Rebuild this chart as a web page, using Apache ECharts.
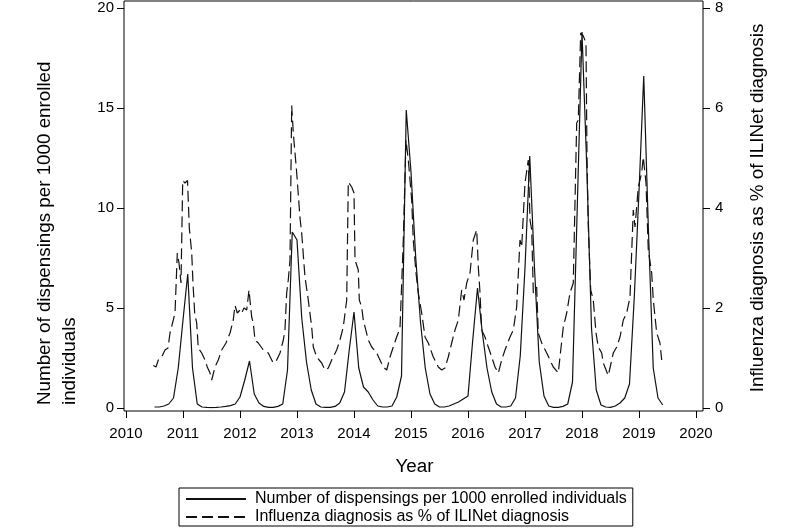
<!DOCTYPE html>
<html>
<head>
<meta charset="utf-8">
<script src="https://cdn.jsdelivr.net/npm/echarts@6/dist/echarts.min.js"></script>
<style>
  html, body { margin: 0; padding: 0; background: #fff; }
  #chart { width: 800px; height: 530px; }
</style>
</head>
<body>
<div id="chart"></div>
<script>
// year ticks on the x axis
const yearTicks = [2010, 2011, 2012, 2013, 2014, 2015, 2016, 2017, 2018, 2019, 2020]

// monthly dispensings per 1000 enrolled, Jul 2010 .. Jun 2019
const firstMonth = '2010-07'
const dispensings = [
  0.05, 0.05, 0.1, 0.2, 0.5, 2.0,
  4.4, 6.7, 2.0, 0.2, 0.05, 0.03, 0.02, 0.03, 0.05, 0.08, 0.12, 0.2,
  0.55, 1.4, 2.35, 0.7, 0.25, 0.08, 0.03, 0.03, 0.08, 0.2, 1.9, 8.8,
  8.4, 4.5, 2.3, 0.9, 0.2, 0.05, 0.03, 0.03, 0.08, 0.25, 0.8, 2.9,
  4.8, 2.0, 1.05, 0.8, 0.4, 0.1, 0.05, 0.05, 0.1, 0.55, 1.6, 14.9,
  11.8, 7.5, 4.3, 2.0, 0.7, 0.2, 0.05, 0.05, 0.1, 0.2, 0.3, 0.45,
  0.6, 3.4, 6.0, 3.8, 2.0, 0.8, 0.2, 0.05, 0.05, 0.1, 0.5, 2.6,
  7.0, 12.6, 7.0, 2.3, 0.6, 0.1, 0.03, 0.03, 0.08, 0.2, 1.3, 10.0,
  18.8, 12.1, 4.0, 0.9, 0.15, 0.05, 0.03, 0.1, 0.25, 0.5, 1.2, 5.5,
  10.8, 16.6, 8.8, 2.0, 0.5, 0.15
]

// influenza diagnosis as % of ILINet (decimal year, value)
const fluTime = [
  2010.479, 2010.526, 2010.567, 2010.626, 2010.684, 2010.737, 2010.772, 2010.830, 2010.860, 2010.900,
  2010.930, 2010.965, 2010.995, 2011.035, 2011.079, 2011.111, 2011.153, 2011.175, 2011.205, 2011.240,
  2011.268, 2011.328, 2011.386, 2011.426, 2011.474, 2011.503, 2011.561, 2011.619, 2011.679, 2011.754,
  2011.825, 2011.882, 2011.912, 2011.953, 2012.000, 2012.030, 2012.070, 2012.118, 2012.158, 2012.175,
  2012.205, 2012.233, 2012.263, 2012.321, 2012.409, 2012.496, 2012.556, 2012.584, 2012.644, 2012.702,
  2012.760, 2012.789, 2012.819, 2012.847, 2012.877, 2012.907, 2012.935, 2012.995, 2013.053, 2013.082,
  2013.140, 2013.198, 2013.258, 2013.286, 2013.346, 2013.433, 2013.491, 2013.549, 2013.609, 2013.696,
  2013.754, 2013.812, 2013.872, 2013.900, 2013.960, 2014.000, 2014.018, 2014.075, 2014.093, 2014.135,
  2014.163, 2014.251, 2014.311, 2014.398, 2014.456, 2014.514, 2014.574, 2014.632, 2014.689, 2014.749,
  2014.807, 2014.837, 2014.865, 2014.912, 2014.953, 2015.012, 2015.040, 2015.088, 2015.128, 2015.188,
  2015.246, 2015.304, 2015.391, 2015.479, 2015.539, 2015.596, 2015.654, 2015.714, 2015.772, 2015.830,
  2015.889, 2015.930, 2015.977, 2016.035, 2016.093, 2016.153, 2016.181, 2016.211, 2016.240, 2016.298,
  2016.356, 2016.416, 2016.474, 2016.532, 2016.591, 2016.649, 2016.737, 2016.795, 2016.854, 2016.912,
  2016.942, 2017.000, 2017.058, 2017.088, 2017.118, 2017.146, 2017.205, 2017.233, 2017.293, 2017.381,
  2017.439, 2017.496, 2017.584, 2017.614, 2017.672, 2017.732, 2017.789, 2017.847, 2017.907, 2017.935,
  2017.977, 2018.023, 2018.070, 2018.088, 2018.111, 2018.153, 2018.198, 2018.246, 2018.286, 2018.346,
  2018.374, 2018.461, 2018.491, 2018.549, 2018.609, 2018.667, 2018.725, 2018.784, 2018.842, 2018.900,
  2018.930, 2018.988, 2019.047, 2019.075, 2019.123, 2019.163, 2019.223, 2019.251, 2019.311, 2019.368,
  2019.398
]
const fluPct = [
  0.85, 0.82, 0.96, 1.02, 1.16, 1.2, 1.5, 1.76, 1.9, 3.1,
  2.9, 2.5, 4.55, 4.5, 4.55, 3.6, 3.1, 2.5, 1.9, 1.7,
  1.2, 1.1, 0.96, 0.82, 0.7, 0.56, 0.82, 0.96, 1.16, 1.3,
  1.5, 1.76, 2.05, 1.9, 1.96, 1.9, 2.0, 1.96, 2.36, 2.16,
  1.82, 1.7, 1.36, 1.3, 1.16, 1.1, 0.96, 0.9, 0.96, 1.1,
  1.36, 1.56, 2.3, 2.56, 2.96, 6.05, 5.5, 4.7, 3.8, 3.5,
  2.62, 2.16, 1.62, 1.22, 1.02, 0.9, 0.76, 0.8, 0.96, 1.16,
  1.36, 1.62, 2.16, 4.52, 4.42, 4.3, 2.96, 2.76, 2.16, 2.02,
  1.76, 1.36, 1.22, 1.1, 0.96, 0.82, 0.76, 1.02, 1.22, 1.42,
  1.6, 2.5, 3.36, 5.36, 4.96, 4.16, 3.36, 2.7, 2.3, 1.9,
  1.42, 1.3, 1.02, 0.82, 0.76, 0.8, 1.02, 1.3, 1.56, 1.76,
  2.36, 2.16, 2.5, 2.7, 3.36, 3.56, 2.82, 2.3, 1.56, 1.42,
  1.22, 1.02, 0.82, 0.7, 0.96, 1.16, 1.42, 1.56, 2.02, 3.36,
  3.22, 4.5, 4.96, 3.76, 3.56, 2.3, 2.42, 1.5, 1.3, 1.1,
  0.96, 0.82, 0.7, 1.02, 1.62, 1.9, 2.3, 2.5, 5.7, 5.76,
  7.5, 7.44, 7.3, 5.0, 3.62, 2.36, 2.16, 1.5, 1.22, 1.1,
  0.9, 0.65, 0.8, 1.1, 1.22, 1.42, 1.76, 1.9, 2.22, 3.96,
  3.62, 4.42, 4.7, 5.02, 4.5, 3.16, 2.7, 2.16, 1.5, 1.3,
  0.96
]

const FONT = '"Liberation Sans", Arial, sans-serif'
const NAME_SOLID = 'Number of dispensings per 1000 enrolled individuals'
const NAME_DASH = 'Influenza diagnosis as % of ILINet diagnosis'

const y0 = Number(firstMonth.slice(0, 4))
const m0 = Number(firstMonth.slice(5, 7)) - 1
const solidData = dispensings.map((v, i) => [y0 + (m0 + i) / 12, v])
const dashData = fluTime.map((t, i) => [t, fluPct[i]])

const chart = echarts.init(document.getElementById('chart'), null, { renderer: 'canvas' })

chart.setOption({
  backgroundColor: '#fff',
  animation: false,
  textStyle: { fontFamily: FONT, color: '#000' },
  grid: [
    // data area
    { left: 126, right: 97, top: 8, bottom: 122 },
    // plot frame
    { left: 124, right: 97, top: 1, bottom: 119, show: true, borderColor: '#000', borderWidth: 1, backgroundColor: 'transparent' }
  ],
  xAxis: [{
    type: 'value',
    gridIndex: 0,
    min: 2010,
    max: 2020.123,
    offset: 3,
    name: 'Year',
    nameLocation: 'middle',
    nameGap: 46,
    nameTextStyle: { fontSize: 18.8, fontFamily: FONT, color: '#000' },
    axisLine: { show: false, onZero: false },
    axisTick: { show: true, length: 7, lineStyle: { color: '#000' }, customValues: yearTicks },
    axisLabel: { fontSize: 15, fontFamily: FONT, color: '#000', margin: 15, customValues: yearTicks, formatter: v => String(v) },
    splitLine: { show: false }
  }, {
    type: 'value', gridIndex: 1, show: false
  }],
  yAxis: [{
    type: 'value',
    gridIndex: 0,
    position: 'left',
    min: 0,
    max: 20,
    interval: 5,
    offset: 2,
    axisLine: { show: false },
    axisTick: { show: true, length: 7, lineStyle: { color: '#000' } },
    axisLabel: { fontSize: 15, fontFamily: FONT, color: '#000', margin: 10 },
    splitLine: { show: false }
  }, {
    type: 'value',
    gridIndex: 0,
    position: 'right',
    min: 0,
    max: 8,
    interval: 2,
    name: NAME_DASH,
    nameLocation: 'middle',
    nameRotate: 90,
    nameGap: 45,
    nameTextStyle: { fontSize: 18.8, fontFamily: FONT, color: '#000' },
    axisLine: { show: false },
    axisTick: { show: true, length: 7, lineStyle: { color: '#000' } },
    axisLabel: { fontSize: 15, fontFamily: FONT, color: '#000', margin: 12 },
    splitLine: { show: false }
  }, {
    type: 'value', gridIndex: 1, show: false
  }],
  legend: {
    orient: 'vertical',
    left: 179,
    top: 488,
    itemWidth: 60,
    itemHeight: 12,
    itemGap: 2,
    padding: [3, 6, 1, 6],
    borderColor: '#000',
    borderWidth: 1,
    itemStyle: { opacity: 0 },
    textStyle: { fontSize: 16, fontFamily: FONT, color: '#000', padding: [0, 0, 0, 4] },
    data: [NAME_SOLID, NAME_DASH]
  },
  graphic: [{
    type: 'text',
    x: 32,
    y: 405,
    rotation: Math.PI / 2,
    style: {
      text: 'Number of dispensings per 1000 enrolled\nindividuals',
      fontSize: 18.8,
      fontFamily: FONT,
      lineHeight: 25,
      fill: '#000',
      align: 'left',
      verticalAlign: 'top'
    }
  }],
  series: [{
    name: NAME_SOLID,
    type: 'line',
    xAxisIndex: 0,
    yAxisIndex: 0,
    symbol: 'none',
    lineStyle: { color: '#111', width: 1.2 },
    itemStyle: { color: '#111' },
    data: solidData
  }, {
    name: NAME_DASH,
    type: 'line',
    xAxisIndex: 0,
    yAxisIndex: 1,
    symbol: 'none',
    lineStyle: { color: '#111', width: 1.2, type: [11, 5] },
    itemStyle: { color: '#111' },
    data: dashData
  }]
})
</script>
</body>
</html>
